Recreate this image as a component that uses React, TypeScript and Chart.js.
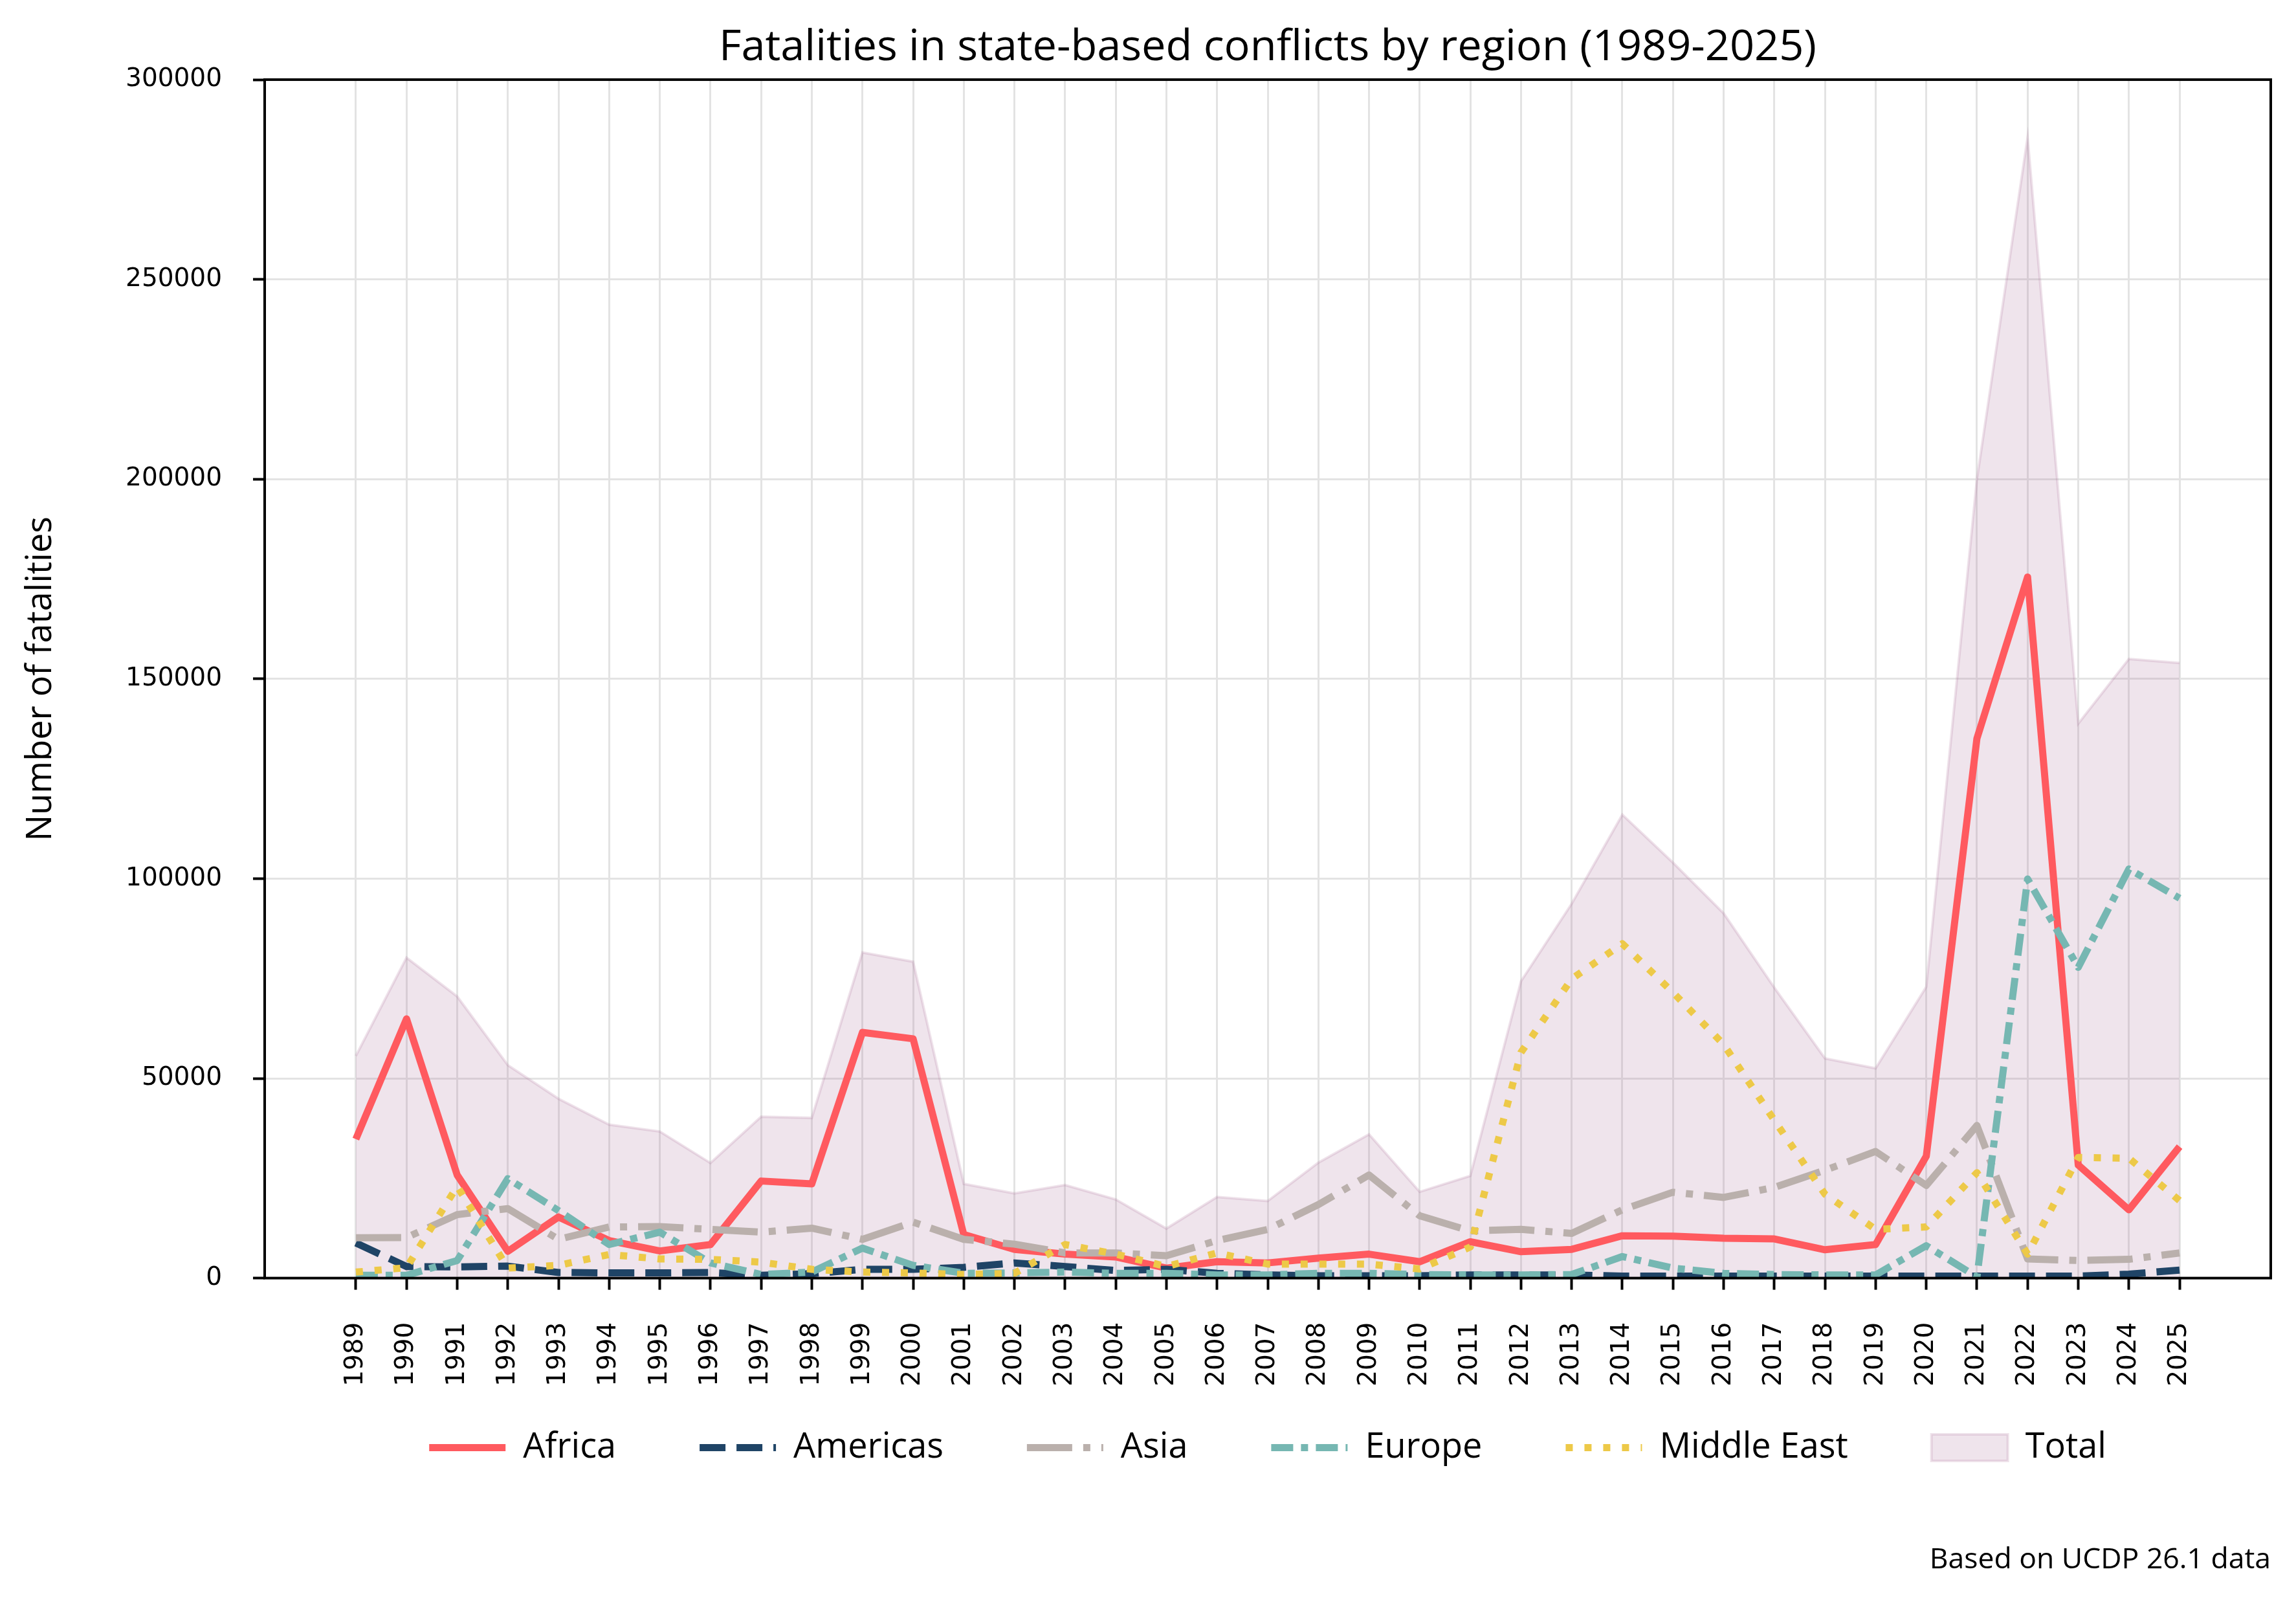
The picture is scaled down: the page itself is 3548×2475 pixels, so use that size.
import React, { useEffect, useRef } from 'react';
import { Chart, registerables } from 'chart.js';

Chart.register(...registerables);

const W = 3548;
const H = 2475;

const years = [
  1989, 1990, 1991, 1992, 1993, 1994, 1995, 1996, 1997, 1998, 1999,
  2000, 2001, 2002, 2003, 2004, 2005, 2006, 2007, 2008, 2009,
  2010, 2011, 2012, 2013, 2014, 2015, 2016, 2017, 2018, 2019,
  2020, 2021, 2022, 2023, 2024, 2025,
];

const africa = [
  34800, 64900, 25800, 6700, 15300, 9400, 6800, 8400, 24300, 23600, 61500,
  59900, 10900, 7200, 6000, 5300, 2500, 4100, 3800, 5000, 6000,
  4100, 9100, 6600, 7200, 10600, 10500, 10000, 9800, 7100, 8400,
  30500, 135100, 175500, 28300, 17100, 32900,
];

const americas = [
  8800, 2900, 2800, 3000, 1400, 1300, 1300, 1400, 700, 1100, 2200,
  2200, 2700, 3800, 2900, 1900, 2200, 1200, 800, 600, 600,
  600, 800, 800, 800, 500, 500, 500, 500, 500, 500,
  500, 500, 500, 500, 1000, 2000,
];

const asia = [
  10100, 10150, 15900, 17400, 9700, 12800, 12900, 12200, 11500, 12500, 9700,
  14000, 9700, 8500, 6300, 6300, 5600, 9400, 12200, 18400, 25800,
  15600, 11800, 12200, 11200, 17100, 21500, 20200, 22700, 27000, 31700,
  23200, 38200, 4800, 4400, 4700, 6300,
];

const europe = [
  700, 700, 4400, 24900, 16900, 8400, 11500, 3800, 900, 1500, 7500,
  3200, 1200, 1300, 1500, 1200, 1200, 800, 800, 1200, 1200,
  900, 800, 800, 900, 5400, 2500, 1200, 900, 800, 800,
  8100, 300, 99900, 77800, 102400, 95100,
];

const middleEast = [
  1500, 2600, 23000, 2500, 3200, 5900, 4800, 4700, 4000, 2200, 1500,
  1300, 900, 1200, 8400, 6000, 2900, 6300, 3500, 3500, 3500,
  2300, 7800, 56500, 74900, 83700, 71500, 58500, 39500, 21000, 12200,
  12800, 26400, 6000, 30200, 30000, 19400,
];

const total = [
  55600, 80200, 70500, 53300, 44900, 38400, 36700, 28800, 40400, 40100, 81500,
  79200, 23600, 21200, 23300, 19700, 12400, 20300, 19300, 28900, 36000,
  21600, 25600, 74300, 93700, 116000, 104000, 91300, 72700, 55000, 52500,
  72900, 200000, 285500, 138800, 155000, 154000,
];

const seriesNames = ['Africa', 'Americas', 'Asia', 'Europe', 'Middle East', 'Total'];
const seriesColors = ['#FF5A5F', '#1F4466', '#BAB0AC', '#76B7B2', '#EDC948', 'rgba(176,122,161,0.2)'];
const seriesDashes: number[][] = [[], [40, 17], [70, 17, 11, 17], [34, 12, 11, 12], [11, 18], []];

const TITLE = 'Fatalities in state-based conflicts by region (1989-2025)';
const Y_TITLE = 'Number of fatalities';
const FOOTNOTE = 'Based on UCDP 26.1 data';

const LW = 11;
const SANS = "'Open Sans', 'Noto Sans', sans-serif";
const TICKFONT = "'DejaVu Sans', sans-serif";

const toPoints = (arr: number[]) => years.map((yr, i) => ({ x: yr, y: arr[i] }));

const spinesPlugin = {
  id: 'spines',
  afterDraw(chart: any) {
    const { ctx, chartArea } = chart;
    ctx.save();
    ctx.strokeStyle = '#000';
    ctx.lineWidth = 4;
    ctx.setLineDash([]);
    ctx.strokeRect(chartArea.left, chartArea.top, chartArea.right - chartArea.left, chartArea.bottom - chartArea.top);
    ctx.restore();
  },
};

export default function App() {
  const ref = useRef<HTMLCanvasElement>(null);

  useEffect(() => {
    const canvas = ref.current;
    if (!canvas) return;
    const regionData = [africa, americas, asia, europe, middleEast];

    const datasets: any[] = regionData.map((arr, i) => ({
      label: seriesNames[i],
      data: toPoints(arr),
      borderColor: seriesColors[i],
      backgroundColor: seriesColors[i],
      borderWidth: LW,
      borderDash: seriesDashes[i],
      borderCapStyle: 'butt',
      borderJoinStyle: 'round',
      pointRadius: 0,
      pointHoverRadius: 0,
      tension: 0,
      fill: false,
      order: 5 - i,
    }));
    datasets.push({
      label: seriesNames[5],
      data: toPoints(total),
      borderColor: 'rgba(176,122,161,0.22)',
      backgroundColor: seriesColors[5],
      borderWidth: 4,
      pointRadius: 0,
      pointHoverRadius: 0,
      tension: 0,
      fill: 'origin',
      order: 10,
    });

    const chart = new Chart(canvas, {
      type: 'line',
      data: { datasets },
      plugins: [spinesPlugin],
      options: {
        responsive: false,
        maintainAspectRatio: false,
        devicePixelRatio: 1,
        animation: false,
        events: [],
        layout: { padding: { left: 0, right: 39, top: 0, bottom: 18 } },
        plugins: {
          tooltip: { enabled: false },
          title: {
            display: true,
            text: TITLE,
            color: '#000',
            fullSize: false,
            font: { family: SANS, size: 66.7, weight: 'normal' },
            padding: { top: 34, bottom: 9 },
          },
          subtitle: {
            display: true,
            text: FOOTNOTE,
            position: 'bottom',
            align: 'end',
            color: '#000',
            font: { family: SANS, size: 44.5, weight: 'normal' },
            padding: { top: 110, bottom: 20 },
          },
          legend: {
            display: true,
            position: 'bottom',
            fullSize: false,
            labels: {
              color: '#000',
              font: { family: SANS, size: 54, weight: 'normal' },
              usePointStyle: true,
              pointStyleWidth: 118,
              boxHeight: 41,
              padding: 129,
              generateLabels: () =>
                seriesNames.map((name, i) => {
                  if (i === 5) {
                    return {
                      text: name,
                      fillStyle: seriesColors[5],
                      strokeStyle: 'rgba(176,122,161,0.22)',
                      lineWidth: 4,
                      pointStyle: 'rect',
                      hidden: false,
                      datasetIndex: i,
                      fontColor: '#000',
                    } as any;
                  }
                  return {
                    text: name,
                    fillStyle: seriesColors[i],
                    strokeStyle: seriesColors[i],
                    lineWidth: LW,
                    lineDash: seriesDashes[i],
                    lineCap: 'butt',
                    pointStyle: 'line',
                    hidden: false,
                    datasetIndex: i,
                    fontColor: '#000',
                  } as any;
                }),
            },
          },
        },
        scales: {
          x: {
            type: 'linear',
            min: 1987.2,
            max: 2026.8,
            afterBuildTicks: (scale: any) => {
              scale.ticks = years.map((v) => ({ value: v }));
            },
            afterFit: (scale: any) => {
              scale.height = 106;
            },
            afterUpdate: (scale: any) => {
              // let the rotated year labels extend below the (short) axis box
              scale._computeLabelArea = () => undefined;
            },
            ticks: {
              autoSkip: false,
              minRotation: 90,
              maxRotation: 90,
              padding: 50,
              color: '#000',
              font: { family: TICKFONT, size: 39 },
              callback: (v: any) => String(v),
            },
            grid: {
              color: '#e3e3e3',
              lineWidth: 3,
              drawTicks: true,
              tickLength: 18,
              tickColor: '#000',
              tickWidth: 4,
            },
            border: { display: false },
          },
          y: {
            type: 'linear',
            min: 0,
            max: 300000,
            afterFit: (scale: any) => {
              scale.width = 409;
            },
            ticks: {
              stepSize: 50000,
              padding: 48,
              color: '#000',
              font: { family: TICKFONT, size: 39 },
              callback: (v: any) => String(v),
            },
            grid: {
              color: '#e3e3e3',
              lineWidth: 3,
              drawTicks: true,
              tickLength: 18,
              tickColor: '#000',
              tickWidth: 4,
            },
            border: { display: false },
            title: {
              display: true,
              text: Y_TITLE,
              color: '#000',
              font: { family: SANS, size: 54, weight: 'normal' },
              padding: { top: 31, bottom: 0 },
            },
          },
        },
      } as any,
    });

    return () => {
      chart.destroy();
    };
  }, []);

  return (
    <div style={{ position: 'absolute', left: 0, top: 0, width: W, height: H, background: '#fff' }}>
      <canvas ref={ref} width={W} height={H} style={{ display: 'block', width: W, height: H }} />
    </div>
  );
}
